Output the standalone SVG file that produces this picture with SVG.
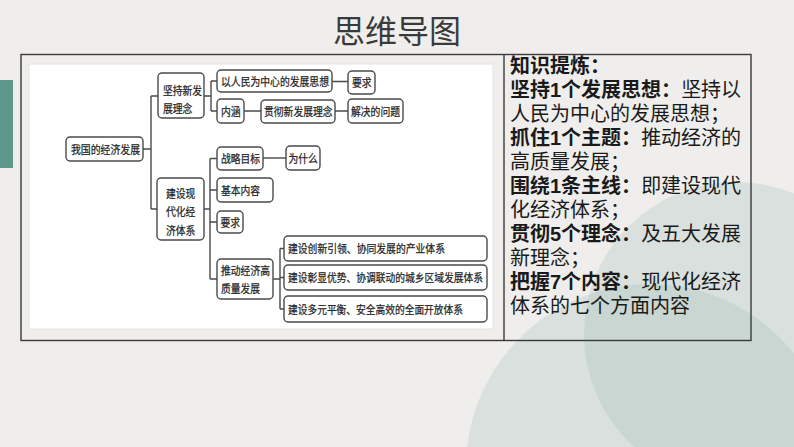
<svg xmlns="http://www.w3.org/2000/svg" width="794" height="447" viewBox="0 0 794 447">
<defs>
<style>
.bg{fill:#efeeec}
.circ{fill:#9fbdb5;fill-opacity:0.27}
.nb{fill:#ffffff;stroke:#4a4a4a;stroke-width:1.4}
.nt{font-family:"Noto Sans CJK SC","Noto Sans",sans-serif;font-size:11.5px;fill:#262626;stroke:#262626;stroke-width:0.25}
.cn{stroke:#4a4a4a;stroke-width:1.4;fill:none}
.kt{font-family:"Liberation Sans","Noto Sans CJK SC",sans-serif;font-size:20px;fill:#1a1a1a}
.kb{font-weight:bold}
</style>
</defs>
<rect class="bg" x="0" y="0" width="794" height="447"/>
<circle class="circ" cx="650" cy="468" r="184"/>
<circle class="circ" cx="736" cy="334" r="152"/>
<rect x="0" y="80" width="13" height="88" fill="#5d968a"/>
<text x="397" y="43" text-anchor="middle" font-family="'Noto Sans CJK SC','Noto Sans',sans-serif" font-size="32" fill="#3a3a3a">思维导图</text>

<g id="frame">
<rect x="29" y="64" width="464" height="265" fill="#ffffff" stroke="#e2e2e2" stroke-width="1"/>
<rect x="21" y="54.5" width="730" height="286" fill="none" stroke="#3a3a3a" stroke-width="1.4"/>
<line x1="504" y1="54.5" x2="504" y2="340.5" stroke="#3a3a3a" stroke-width="1.4"/>
</g>

<g id="connectors">
<path class="cn" d="M143 149H151M151 96V209M151 96H158M151 209H157"/>
<path class="cn" d="M204 96H211M211 81V111M211 81H217M211 111H217"/>
<path class="cn" d="M332 81.5H348M244 111H261M335 111H348"/>
<path class="cn" d="M204 209H210M210 158.5V279M210 158.5H217M210 190H217M210 222H217M210 279H217"/>
<path class="cn" d="M263 158H286"/>
<path class="cn" d="M273 279H280M280 248.5V309M280 248.5H284M280 277.5H284M280 309H284"/>
</g>

<g id="n-root"><rect class="nb" x="66" y="137" width="77" height="24" rx="4"/><text class="nt" x="71" y="153.5" textLength="69" lengthAdjust="spacingAndGlyphs">我国的经济发展</text></g>
<g id="n-jianchi"><rect class="nb" x="158" y="73" width="46" height="45" rx="4"/><text class="nt" x="163" y="94.5" textLength="39" lengthAdjust="spacingAndGlyphs">坚持新发</text><text class="nt" x="163" y="112.5" textLength="29.4" lengthAdjust="spacingAndGlyphs">展理念</text></g>
<g id="n-renmin"><rect class="nb" x="217" y="70" width="115" height="22" rx="4"/><text class="nt" x="221" y="85.5" textLength="108" lengthAdjust="spacingAndGlyphs">以人民为中心的发展思想</text></g>
<g id="n-yaoqiu1"><rect class="nb" x="348" y="71" width="27" height="23" rx="4"/><text class="nt" x="352" y="87" textLength="19.6" lengthAdjust="spacingAndGlyphs">要求</text></g>
<g id="n-neihan"><rect class="nb" x="217" y="99" width="27" height="24" rx="4"/><text class="nt" x="221" y="115.5" textLength="19.6" lengthAdjust="spacingAndGlyphs">内涵</text></g>
<g id="n-guanche"><rect class="nb" x="261" y="100" width="74" height="23" rx="4"/><text class="nt" x="264" y="115.5" textLength="68.6" lengthAdjust="spacingAndGlyphs">贯彻新发展理念</text></g>
<g id="n-jiejue"><rect class="nb" x="348" y="99" width="55" height="24" rx="4"/><text class="nt" x="351" y="115.5" textLength="49" lengthAdjust="spacingAndGlyphs">解决的问题</text></g>
<g id="n-jianshe"><rect class="nb" x="157" y="178" width="47" height="62" rx="4"/><text class="nt" x="166" y="197.5" textLength="29.4" lengthAdjust="spacingAndGlyphs">建设现</text><text class="nt" x="166" y="216" textLength="29.4" lengthAdjust="spacingAndGlyphs">代化经</text><text class="nt" x="166" y="234.5" textLength="29.4" lengthAdjust="spacingAndGlyphs">济体系</text></g>
<g id="n-zhanlue"><rect class="nb" x="217" y="147" width="46" height="23" rx="4"/><text class="nt" x="221" y="163" textLength="39" lengthAdjust="spacingAndGlyphs">战略目标</text></g>
<g id="n-weishenme"><rect class="nb" x="286" y="146" width="34" height="24" rx="4"/><text class="nt" x="288.5" y="162.5" textLength="29.4" lengthAdjust="spacingAndGlyphs">为什么</text></g>
<g id="n-jiben"><rect class="nb" x="217" y="178" width="56" height="24" rx="4"/><text class="nt" x="221" y="194.5" textLength="39" lengthAdjust="spacingAndGlyphs">基本内容</text></g>
<g id="n-yaoqiu2"><rect class="nb" x="217" y="211" width="26" height="22" rx="4"/><text class="nt" x="220.5" y="226.5" textLength="19.6" lengthAdjust="spacingAndGlyphs">要求</text></g>
<g id="n-tuidong"><rect class="nb" x="217" y="259" width="56" height="40" rx="4"/><text class="nt" x="221" y="274.5" textLength="49" lengthAdjust="spacingAndGlyphs">推动经济高</text><text class="nt" x="221" y="292.5" textLength="39" lengthAdjust="spacingAndGlyphs">质量发展</text></g>
<g id="n-chanye"><rect class="nb" x="284" y="236" width="203" height="25" rx="4"/><text class="nt" x="288" y="253" textLength="157" lengthAdjust="spacingAndGlyphs">建设创新引领、协同发展的产业体系</text></g>
<g id="n-quyu"><rect class="nb" x="284" y="265" width="203" height="25" rx="4"/><text class="nt" x="288" y="282" textLength="195" lengthAdjust="spacingAndGlyphs">建设彰显优势、协调联动的城乡区域发展体系</text></g>
<g id="n-kaifang"><rect class="nb" x="284" y="296" width="203" height="26" rx="4"/><text class="nt" x="288" y="313.5" textLength="175" lengthAdjust="spacingAndGlyphs">建设多元平衡、安全高效的全面开放体系</text></g>

<g id="summary">
<text class="kt" x="510" y="73"><tspan class="kb">知识提炼：</tspan><tspan x="510" dy="24"><tspan class="kb">坚持1个发展思想：</tspan>坚持以</tspan><tspan x="510" dy="24">人民为中心的发展思想；</tspan><tspan x="510" dy="24"><tspan class="kb">抓住1个主题：</tspan>推动经济的</tspan><tspan x="510" dy="24">高质量发展；</tspan><tspan x="510" dy="24"><tspan class="kb">围绕1条主线：</tspan>即建设现代</tspan><tspan x="510" dy="24">化经济体系；</tspan><tspan x="510" dy="24"><tspan class="kb">贯彻5个理念：</tspan>及五大发展</tspan><tspan x="510" dy="24">新理念；</tspan><tspan x="510" dy="24"><tspan class="kb">把握7个内容：</tspan>现代化经济</tspan><tspan x="510" dy="24">体系的七个方面内容</tspan></text>
</g>
</svg>
